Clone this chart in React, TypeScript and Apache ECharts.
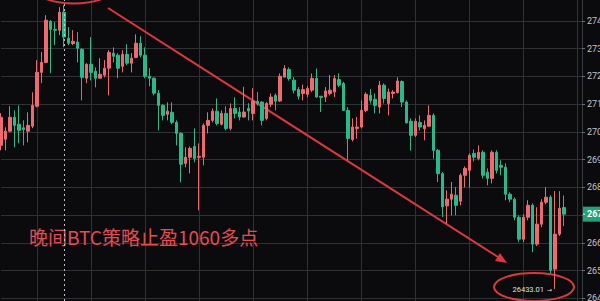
import React, { useEffect, useRef } from "react";
import * as echarts from "echarts";

// 15-minute BTC candles, oldest first: open / close / low / high
const opens = [
  26951, 26973, 27002, 27052, 27027, 27014, 27002, 27020, 27092, 27214,
  27250, 27398, 27369, 27366, 27431, 27337, 27318, 27323, 27297, 27193,
  27243, 27218, 27193, 27204, 27229, 27283, 27276, 27236, 27279, 27247,
  27268, 27319, 27276, 27200, 27193, 27139, 27095, 27063, 27070, 27034,
  26994, 26886, 26908, 26947, 26908, 26908, 27023, 27041, 27074, 27027,
  27066, 27012, 27084, 27071, 27053, 27084, 27066, 27110, 27107, 27048,
  27099, 27131, 27111, 27197, 27224, 27186, 27152, 27138, 27135, 27150,
  27192, 27128, 27125, 27138, 27143, 27188, 27174, 27077, 26972, 27012,
  27017, 27077, 27131, 27117, 27089, 27168, 27102, 27138, 27141, 27181,
  27107, 27038, 26987, 27033, 27011, 27020, 27059, 26933, 26849, 26733,
  26757, 26771, 26750, 26843, 26861, 26922, 26904, 26926, 26854, 26832,
  26926, 26879, 26872, 26775, 26757, 26692, 26613, 26692, 26735, 26595,
  26667, 26746, 26764, 26505, 26631, 26727,
];

const closes = [
  27052, 27002, 27052, 27023, 27005, 27008, 27023, 27095, 27214, 27250,
  27402, 27369, 27366, 27431, 27341, 27319, 27326, 27301, 27196, 27243,
  27214, 27193, 27207, 27229, 27286, 27272, 27229, 27279, 27247, 27265,
  27319, 27276, 27200, 27193, 27139, 27095, 27059, 27074, 27034, 26994,
  26883, 26908, 26940, 26904, 26911, 27023, 27041, 27074, 27030, 27066,
  27012, 27084, 27066, 27053, 27071, 27075, 27111, 27102, 27041, 27102,
  27125, 27110, 27200, 27228, 27192, 27150, 27128, 27152, 27156, 27192,
  27125, 27124, 27147, 27150, 27192, 27168, 27077, 26976, 27017, 27017,
  27077, 27135, 27113, 27095, 27168, 27120, 27143, 27143, 27183, 27107,
  27032, 26987, 27038, 27017, 27023, 27059, 26933, 26849, 26729, 26757,
  26775, 26735, 26843, 26868, 26915, 26908, 26926, 26843, 26832, 26926,
  26861, 26872, 26775, 26757, 26692, 26613, 26692, 26735, 26595, 26667,
  26746, 26764, 26501, 26631, 26724, 26703,
];

const lows = [
  26933, 26933, 26998, 26944, 26958, 26951, 26962, 27013, 27088, 27175,
  27247, 27211, 27312, 27348, 27305, 27312, 27312, 27250, 27113, 27175,
  27185, 27160, 27193, 27196, 27131, 27250, 27193, 27214, 27240, 27214,
  27265, 27268, 27193, 27164, 27131, 27005, 27041, 27041, 27027, 26951,
  26818, 26872, 26850, 26890, 26717, 26879, 26994, 27034, 27023, 27023,
  27005, 27005, 27048, 27041, 27051, 27041, 27041, 27095, 27023, 27041,
  27089, 27077, 27107, 27195, 27184, 27138, 27116, 27113, 27125, 27143,
  27123, 27071, 27107, 27131, 27125, 27161, 27075, 26897, 26965, 26975,
  27012, 27070, 27102, 27066, 27066, 27102, 27059, 27120, 27138, 27089,
  27030, 26932, 26981, 27005, 26969, 27017, 26903, 26819, 26693, 26669,
  26699, 26699, 26735, 26799, 26799, 26893, 26897, 26832, 26807, 26814,
  26850, 26843, 26753, 26746, 26681, 26602, 26602, 26681, 26566, 26588,
  26656, 26739, 26490, 26433.01, 26624, 26660,
];

const highs = [
  27067, 27016, 27092, 27077, 27095, 27041, 27070, 27142, 27258, 27287,
  27420, 27402, 27395, 27449, 27456, 27377, 27366, 27359, 27301, 27247,
  27341, 27232, 27265, 27258, 27294, 27304, 27283, 27294, 27315, 27283,
  27351, 27344, 27304, 27229, 27196, 27150, 27099, 27106, 27106, 27041,
  26998, 26944, 26947, 27012, 26958, 27030, 27070, 27084, 27120, 27077,
  27092, 27102, 27124, 27089, 27162, 27103, 27157, 27143, 27110, 27107,
  27138, 27138, 27210, 27240, 27232, 27197, 27161, 27170, 27165, 27210,
  27228, 27128, 27161, 27204, 27204, 27210, 27180, 27089, 27048, 27053,
  27113, 27142, 27154, 27138, 27183, 27174, 27156, 27150, 27196, 27185,
  27113, 27048, 27048, 27059, 27041, 27095, 27066, 26938, 26855, 26789,
  26819, 26801, 26850, 26875, 26922, 26936, 26951, 26933, 26868, 26933,
  26933, 26897, 26886, 26782, 26764, 26699, 26703, 26753, 26742, 26728,
  26757, 26800, 26771, 26786, 26786, 26770,
];

// bar slots on the time axis (a few empty slots to the right of the last bar)
const SLOT_COUNT = 130;
const slots = Array.from({ length: SLOT_COUNT }, (_, i) => `#${i}`);

// price axis
const PRICE_MIN = 26300;
const PRICE_MAX = 27500;
const PRICE_STEP = 100;
const LABEL_LOW = 26400;
const LABEL_HIGH = 27400;

const CROSSHAIR_BAR = 14;
const NOTE = "晚间BTC策略止盈1060多点";

const UP = "#ee6a73";
const DOWN = "#27bb8b";
const MARK_RED = "#d9393f";
const BG = "#0b0b0e";
const GRID = "#303137";

// the chart surface runs a little past the top and bottom of the page,
// so the outer price rows sit just out of view
const SHIFT_Y = 7;
const SURFACE_H = 333;

export default function App() {
  const ref = useRef<HTMLDivElement>(null);

  useEffect(() => {
    const chart = echarts.init(ref.current!, null, { renderer: "svg" });
    const candles = opens.map((o, i) => [o, closes[i], lows[i], highs[i]]);
    const lastClose = closes[closes.length - 1];

    chart.setOption({
      animation: false,
      backgroundColor: BG,
      grid: {
        left: 1,
        right: 18,
        top: 0,
        bottom: 0,
        containLabel: false,
        outerBoundsMode: "none",
      },
      xAxis: {
        type: "category",
        data: slots,
        boundaryGap: false,
        axisLine: { show: false },
        axisTick: { show: false },
        axisLabel: { show: false },
        splitLine: {
          show: true,
          interval: (idx: number) => idx % 12 === 8,
          lineStyle: { color: GRID, width: 1 },
        },
      },
      yAxis: {
        type: "value",
        position: "right",
        min: PRICE_MIN,
        max: PRICE_MAX,
        interval: PRICE_STEP,
        axisLine: { show: true, lineStyle: { color: "#3a3b41", width: 1 } },
        axisTick: { show: true, length: 3, lineStyle: { color: "#6a6c73" } },
        axisLabel: {
          show: true,
          margin: 5,
          color: "#c2c4cb",
          fontSize: 9,
          fontFamily: "Roboto",
          // rows outside the page stay blank; the last-price tag covers its own row
          formatter: (v: number) =>
            v < LABEL_LOW || v > LABEL_HIGH || Math.abs(v - lastClose) < 40 ? "" : v.toFixed(2),
        },
        splitLine: { show: true, lineStyle: { color: GRID, width: 1 } },
      },
      series: [
        {
          type: "candlestick",
          data: candles,
          barWidth: 3,
          itemStyle: {
            color: UP,
            color0: DOWN,
            borderColor: UP,
            borderColor0: DOWN,
            borderWidth: 1,
          },
          markLine: {
            silent: true,
            symbol: "none",
            label: { show: false },
            lineStyle: { color: "#d4d6dc", type: [2, 3], width: 1, opacity: 0.9 },
            data: [{ xAxis: CROSSHAIR_BAR }],
          },
        },
      ],
    });

    // price tags placed through the chart's own scales
    const yLast = chart.convertToPixel({ yAxisIndex: 0 }, lastClose) as number;
    const lowIdx = lows.indexOf(Math.min(...lows));
    const [lx, ly] = chart.convertToPixel({ seriesIndex: 0 }, [lowIdx, lows[lowIdx]]) as number[];
    const s = SHIFT_Y;

    chart.setOption({
      graphic: [
        // hand-drawn markup: circle at the top, trend arrow, circle at the low
        {
          type: "ellipse",
          silent: true,
          shape: { cx: 74, cy: -10.5 + s, rx: 38, ry: 14 },
          style: { fill: "none", stroke: MARK_RED, lineWidth: 2 },
        },
        {
          type: "line",
          silent: true,
          shape: { x1: 108, y1: 8 + s, x2: 498, y2: 257 + s },
          style: { stroke: MARK_RED, lineWidth: 2 },
        },
        {
          type: "polygon",
          silent: true,
          shape: { points: [[507, 263 + s], [495, 261 + s], [500, 253 + s]] },
          style: { fill: MARK_RED },
        },
        {
          type: "ellipse",
          silent: true,
          shape: { cx: 534, cy: 287 + s, rx: 40, ry: 14 },
          style: { fill: "none", stroke: MARK_RED, lineWidth: 2 },
        },
        {
          type: "text",
          silent: true,
          x: lx - 11,
          y: ly,
          style: {
            text: lows[lowIdx].toFixed(2),
            fill: "#dfe1e6",
            fontSize: 7.5,
            fontFamily: "Roboto",
            align: "right",
            verticalAlign: "middle",
          },
        },
        {
          type: "text",
          silent: true,
          x: lx - 8,
          y: ly + 0.5,
          style: {
            text: "→",
            fill: "#dfe1e6",
            fontSize: 6,
            fontFamily: "DejaVu Sans",
            align: "left",
            verticalAlign: "middle",
          },
        },
        {
          type: "text",
          silent: true,
          x: 29,
          y: 236 + s,
          style: {
            text: NOTE,
            fill: "#e44b53",
            fontSize: 19,
            fontFamily: "Noto Sans CJK SC",
            align: "left",
            verticalAlign: "middle",
          },
        },
        // last price tag on the price axis
        {
          type: "rect",
          silent: true,
          shape: { x: 582, y: yLast - 7.5, width: 24, height: 15 },
          style: { fill: "#22a276" },
        },
        {
          type: "line",
          silent: true,
          shape: { x1: 582, y1: yLast, x2: 585, y2: yLast },
          style: { stroke: "#ffffff", lineWidth: 1 },
        },
        {
          type: "text",
          silent: true,
          x: 587,
          y: yLast,
          style: {
            text: lastClose.toFixed(2),
            fill: "#ffffff",
            fontSize: 9,
            fontWeight: "bold",
            fontFamily: "Roboto",
            align: "left",
            verticalAlign: "middle",
          },
        },
      ],
    });

    return () => chart.dispose();
  }, []);

  return (
    <div
      ref={ref}
      style={{
        position: "fixed",
        left: 0,
        top: -SHIFT_Y,
        width: 600,
        height: SURFACE_H,
        background: BG,
      }}
    />
  );
}
